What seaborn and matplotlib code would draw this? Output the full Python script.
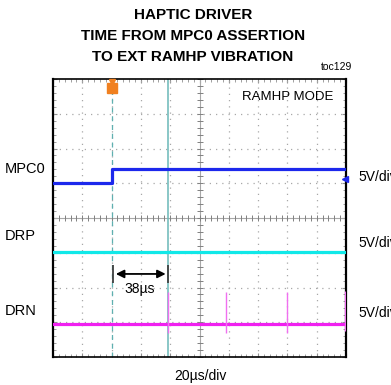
import numpy as np
import pandas as pd
import matplotlib
matplotlib.use("Agg")
import matplotlib.pyplot as plt
import seaborn as sns

sns.set_style("white")
plt.rcParams['font.family'] = ['Liberation Sans Narrow', 'Liberation Sans', 'DejaVu Sans']
plt.rcParams['text.color'] = 'black'

# time in divisions (20us/div), amplitude in divisions
mpc0_t = [0.0, 2.0, 2.0, 10.0]
mpc0_v = [5.0, 5.0, 5.41, 5.41]
drp_t = [0.0, 10.0]
drp_v = [3.02, 3.02]
drn_t = [0.0, 10.0]
drn_v = [0.95, 0.95]
spike_t = [3.94, 5.92, 7.98, 9.98]
spike_top = [1.87, 1.88, 1.88, 1.90]
spike_bot = [0.69, 0.69, 0.69, 0.75]
channel_names = ['MPC0', 'DRP', 'DRN']
channel_label_y = [169, 236, 311]
scale_labels = ['5V/div', '5V/div', '5V/div']
scale_label_y = [177, 243, 313]
trigger_t = 2.0
cursor_t = 3.94
delay_label = '38µs'

fig = plt.figure(figsize=(3.91, 3.85), dpi=100)
ax = fig.add_axes([53/391, 1 - 357/385, 293/391, 278/385])

# grid
for gx in range(1, 10):
    if gx != 5:
        ax.axvline(gx, color='#a8a8a8', lw=0.9, ls=(0, (1, 4)), zorder=1)
for gy in range(1, 8):
    if gy != 4:
        ax.axhline(gy, color='#a8a8a8', lw=0.9, ls=(0, (1, 4)), zorder=1)
ax.axvline(5, color='#a8a8a8', lw=0.8, zorder=1)
ax.axhline(4, color='#a8a8a8', lw=0.8, zorder=1)
minor_x = np.arange(0, 10.01, 0.2)
minor_y = np.arange(0, 8.01, 0.2)
ax.plot(minor_x, np.full_like(minor_x, 4), ls='none', marker='|', ms=4, mew=0.7, color='#808080', zorder=1)
ax.plot(np.full_like(minor_y, 5), minor_y, ls='none', marker='_', ms=4, mew=0.7, color='#808080', zorder=1)

# traces
sns.lineplot(x=mpc0_t, y=mpc0_v, sort=False, estimator=None, color='#1c28ec', lw=2.3, ax=ax, zorder=3)
sns.lineplot(x=drp_t, y=drp_v, sort=False, estimator=None, color='#10e8e8', lw=2.3, ax=ax, zorder=3)
sns.lineplot(x=drn_t, y=drn_v, sort=False, estimator=None, color='#f020f0', lw=2.3, ax=ax, zorder=3)
ax.vlines(spike_t, spike_bot, spike_top, color='#f070f0', lw=1.0, zorder=3)

# cursors
ax.axvline(trigger_t, color='#5fb0b0', lw=0.9, ls=(0, (4, 3)), zorder=2)
ax.axvline(cursor_t, color='#6ab8b8', lw=1.1, zorder=2)
ax.plot([trigger_t], [7.74], marker='s', ms=6.5, color='#f08020', zorder=5, clip_on=False)
ax.plot([trigger_t], [7.92], marker='v', ms=4, color='#f08020', zorder=5, clip_on=False)
ax.plot([9.98], [5.13], marker='<', ms=4, color='#1c28ec', zorder=5, clip_on=False)

# 38us measurement
ax.vlines([trigger_t + 0.05, cursor_t], 2.13, 2.65, color='#404040', lw=1.3, zorder=4)
ax.annotate('', xy=(trigger_t + 0.05, 2.39), xytext=(cursor_t, 2.39),
            arrowprops=dict(arrowstyle='<|-|>', color='black', lw=1.3, mutation_scale=12), zorder=4)
ax.text((trigger_t + cursor_t) / 2, 1.95, delay_label, ha='center', va='center', fontsize=10)

ax.set_xlim(0, 10)
ax.set_ylim(0, 8)
ax.set_xticks(range(0, 11))
ax.set_yticks(range(0, 9))
ax.set_xticks(minor_x, minor=True)
ax.set_yticks(minor_y, minor=True)
ax.tick_params(which='both', direction='in', top=True, right=True, bottom=True, left=True,
               labelbottom=False, labelleft=False, color='#909090')
ax.tick_params(which='major', length=3, width=0.8)
ax.tick_params(which='minor', length=2, width=0.6)
for s in ax.spines.values():
    s.set_color('black')
    s.set_linewidth(1.2)
ax.spines['left'].set_linewidth(1.6)
ax.spines['right'].set_linewidth(1.6)

ax.text(0.80, 0.935, 'RAMHP MODE', transform=ax.transAxes, ha='center', va='center', fontsize=9.5)

# outside labels
for name, yp in zip(channel_names, channel_label_y):
    fig.text(5/391, 1 - yp/385, name, ha='left', va='center', fontsize=10.5)
for lab, yp in zip(scale_labels, scale_label_y):
    fig.text(358/391, 1 - yp/385, lab, ha='left', va='center', fontsize=10)
fig.text(200/391, 1 - 376/385, '20µs/div', ha='center', va='center', fontsize=10)
fig.text(337/391, 1 - 67/385, 'toc129', ha='center', va='center', fontsize=7.5)
fig.text(193/391, 1 - 36/385, 'HAPTIC DRIVER\nTIME FROM MPC0 ASSERTION\nTO EXT RAMHP VIBRATION',
         ha='center', va='center', fontsize=11, fontweight='bold', linespacing=1.6)

fig.savefig('out.png', dpi=100)
